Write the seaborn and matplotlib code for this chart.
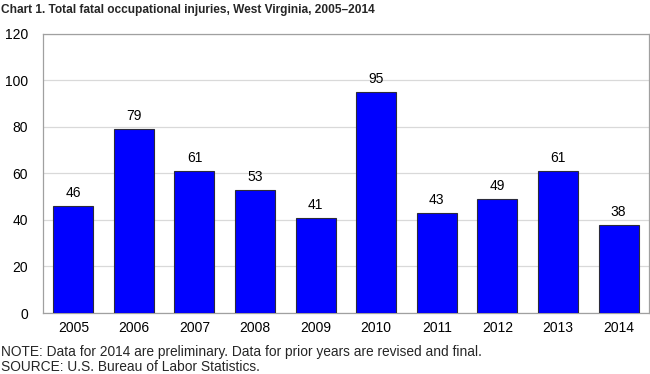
import matplotlib
matplotlib.use("Agg")
import matplotlib.pyplot as plt
import seaborn as sns
import pandas as pd

years = ["2005", "2006", "2007", "2008", "2009", "2010", "2011", "2012", "2013", "2014"]
fatalities = [46, 79, 61, 53, 41, 95, 43, 49, 61, 38]

sns.set_style("white")
plt.rcParams["font.family"] = ["Liberation Sans", "DejaVu Sans"]

df = pd.DataFrame({"year": years, "count": fatalities})

fig = plt.figure(figsize=(6.5, 3.74), dpi=100)
ax = fig.add_axes([0.0662, 0.163, 0.932, 0.747])

sns.barplot(data=df, x="year", y="count", color="#0000FF", saturation=1,
            width=0.66, edgecolor="#2b2b3a", linewidth=0.8, ax=ax, zorder=3)

for i, v in enumerate(fatalities):
    ax.text(i, v + 2.6, str(v), ha="center", va="bottom", fontsize=10, color="black")

ax.set_ylim(0, 120)
ax.set_xlim(-0.5, len(years) - 0.5)
ax.set_yticks(range(0, 121, 20))
ax.yaxis.grid(True, color="#d9d9d9", linewidth=0.9, zorder=0)
ax.set_axisbelow(True)
ax.set_xlabel("")
ax.set_ylabel("")
ax.tick_params(axis="both", length=0, colors="black")
ax.tick_params(axis="y", pad=11, labelsize=10)
ax.tick_params(axis="x", pad=6, labelsize=10)
for side in ["left", "bottom", "top", "right"]:
    ax.spines[side].set_visible(True)
    ax.spines[side].set_color("#a0a0a0")
    ax.spines[side].set_linewidth(0.9)

fig.text(0.002, 0.99, "Chart 1. Total fatal occupational injuries, West Virginia, 2005\u20132014",
         ha="left", va="top", fontsize=8.6, fontweight="bold")
fig.text(0.002, 0.059, "NOTE: Data for 2014 are preliminary. Data for prior years are revised and final.",
         ha="left", va="center", fontsize=9.9)
fig.text(0.002, 0.019, "SOURCE: U.S. Bureau of Labor Statistics.",
         ha="left", va="center", fontsize=9.9)

fig.savefig("out.png", dpi=100)
